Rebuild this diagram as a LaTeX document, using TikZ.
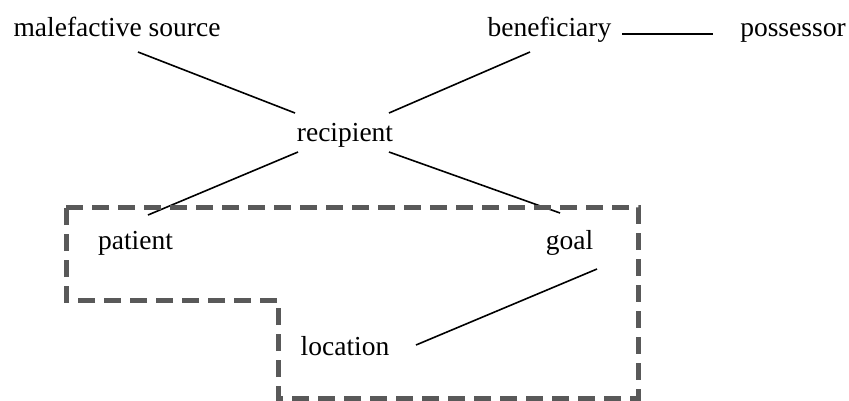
\documentclass[tikz,border=0pt]{standalone}
\usepackage{fontspec}
\setmainfont{Liberation Serif}
\begin{document}
\begin{tikzpicture}[x=1pt,y=-1pt,
  lbl/.style={inner sep=0pt, anchor=base, font=\fontsize{27.5}{33}\selectfont},
  conn/.style={line width=1.6pt, black},
  region/.style={line width=5pt, color=black!65, dash pattern=on 17pt off 9pt}]
\useasboundingbox (0,0) rectangle (849,400);
\node[lbl] (mal) at (117,36) {malefactive source};
\node[lbl] (ben) at (549.5,36) {beneficiary};
\node[lbl] (pos) at (793,36) {possessor};
\node[lbl] (rec) at (345,141) {recipient};
\node[lbl] (pat) at (135.5,249) {patient};
\node[lbl] (goa) at (569.5,249) {goal};
\node[lbl] (loc) at (345,355) {location};
\coordinate (malE) at (138,52);
\coordinate (recNW) at (295,113);
\coordinate (benE) at (530,52);
\coordinate (recNE) at (389,113);
\coordinate (benR) at (622,34);
\coordinate (posL) at (713,34);
\coordinate (recSW) at (298,152);
\coordinate (patN) at (148,215);
\coordinate (recSE) at (389,152);
\coordinate (goaN) at (560,213);
\coordinate (goaS) at (597,269);
\coordinate (locE) at (416,345);
\draw[conn] (malE) -- (recNW);
\draw[conn] (benE) -- (recNE);
\draw[conn] (benR) -- (posL);
\draw[conn] (recSW) -- (patN);
\draw[conn] (recSE) -- (goaN);
\draw[conn] (goaS) -- (locE);
\draw[region] (66,207) -- (638,207) -- (638,398) -- (278,398) -- (278,300) -- (66,300) -- cycle;
\end{tikzpicture}
\end{document}
